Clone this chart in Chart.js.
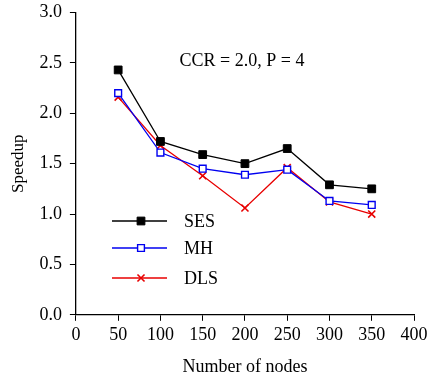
<!DOCTYPE html>
<html>
<head>
<meta charset="UTF-8">
<title>Speedup vs nodes</title>
<script src="https://cdn.jsdelivr.net/npm/chart.js"></script>
<style>
  body { margin: 0; background: #fff; }
  #wrap { width: 432px; height: 378px; }
</style>
</head>
<body>
<div id="wrap"><canvas id="chart"></canvas></div>
<script>
const nodes = [50, 100, 150, 200, 250, 300, 350];
const ses = [2.43, 1.72, 1.59, 1.50, 1.65, 1.29, 1.25];
const mh  = [2.20, 1.61, 1.45, 1.39, 1.44, 1.13, 1.09];
const dls = [2.16, 1.68, 1.38, 1.06, 1.46, 1.12, 1.00];
const note = 'CCR = 2.0, P = 4';

const font = 'Liberation Serif';

function pts(ys) {
    return nodes.map((x, i) => ({ x: x, y: ys[i] }));
}

// legend drawn inside the plot, plus the CCR note
const extras = {
    id: 'extras',
    afterDraw(chart) {
        const ctx = chart.ctx;
        ctx.save();
        ctx.font = '18px ' + font;
        ctx.fillStyle = '#000';
        ctx.textBaseline = 'middle';
        ctx.textAlign = 'center';
        ctx.fillText(note, 242, 61);

        const rows = [221, 248, 278];
        chart.data.datasets.forEach((ds, i) => {
            const y = rows[i];
            ctx.strokeStyle = ds.borderColor;
            ctx.lineWidth = ds.borderWidth;
            ctx.beginPath();
            ctx.moveTo(112, y);
            ctx.lineTo(167, y);
            ctx.stroke();
            ctx.fillStyle = ds.pointBackgroundColor;
            ctx.lineWidth = ds.pointBorderWidth;
            Chart.helpers.drawPoint(ctx, {
                pointStyle: ds.pointStyle,
                radius: ds.pointRadius,
                borderWidth: ds.pointBorderWidth
            }, 141, y);
            ctx.fillStyle = '#000';
            ctx.textAlign = 'left';
            ctx.font = '18px ' + font;
            ctx.fillText(ds.label, 184, y + 1);
        });
        ctx.restore();
    }
};

new Chart(document.getElementById('chart'), {
    type: 'line',
    data: {
        datasets: [{
            label: 'SES',
            data: pts(ses),
            borderColor: '#000',
            backgroundColor: '#000',
            pointBackgroundColor: '#000',
            pointStyle: 'rect',
            pointRadius: 5.5,
            pointBorderWidth: 1,
            borderWidth: 1.3
        }, {
            label: 'MH',
            data: pts(mh),
            borderColor: '#0000f0',
            backgroundColor: '#fff',
            pointBackgroundColor: '#fff',
            pointStyle: 'rect',
            pointRadius: 4.8,
            pointBorderWidth: 1.4,
            borderWidth: 1.3
        }, {
            label: 'DLS',
            data: pts(dls),
            borderColor: '#e80000',
            backgroundColor: '#e80000',
            pointBackgroundColor: '#e80000',
            pointStyle: 'crossRot',
            pointRadius: 5,
            pointBorderWidth: 1.6,
            borderWidth: 1.3
        }]
    },
    options: {
        responsive: true,
        maintainAspectRatio: false,
        animation: false,
        layout: { padding: { top: 0, right: 18, bottom: 0, left: 8 } },
        plugins: {
            legend: { display: false },
            tooltip: { enabled: false }
        },
        scales: {
            x: {
                type: 'linear',
                min: 0,
                max: 400,
                ticks: { stepSize: 50, color: '#000', font: { family: font, size: 18 }, maxRotation: 0, padding: 4 },
                grid: { drawOnChartArea: false, drawTicks: true, tickLength: 6, color: '#000' },
                border: { color: '#000', width: 1.3 },
                title: { display: true, text: 'Number of nodes', color: '#000', font: { family: font, size: 18 }, padding: { top: 6, bottom: 0 } }
            },
            y: {
                min: 0,
                max: 3,
                ticks: { stepSize: 0.5, color: '#000', font: { family: font, size: 18, lineHeight: 0.5 }, padding: 8,
                    callback: v => v.toFixed(1) },
                grid: { drawOnChartArea: false, drawTicks: true, tickLength: 6, color: '#000' },
                border: { color: '#000', width: 1.3 },
                title: { display: true, text: 'Speedup', color: '#000', font: { family: font, size: 17 }, padding: { top: 0, bottom: 3 } }
            }
        }
    },
    plugins: [extras]
});
</script>
</body>
</html>
